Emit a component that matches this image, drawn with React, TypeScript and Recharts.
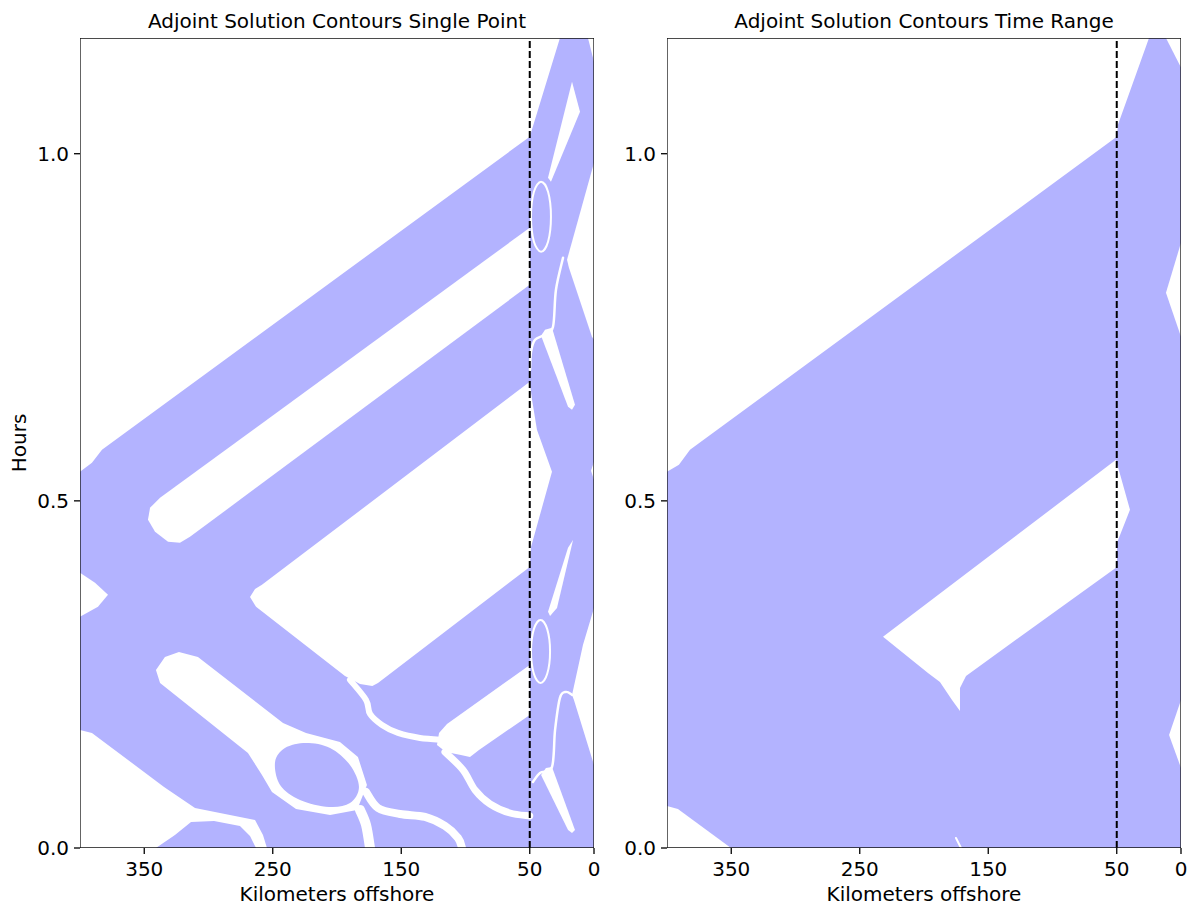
import { ScatterChart, Scatter, XAxis, YAxis } from "recharts";

const FONT = "DejaVu Sans, sans-serif";
const BLUE = "#b3b3ff";
const H_MAX = 7 / 6; // 70 minutes

const xTicks = [350, 250, 150, 50, 0];
const yTicks = [0, 0.5, 1.0];
const shelfKm = 50;

const titleLeft = "Adjoint Solution Contours Single Point";
const titleRight = "Adjoint Solution Contours Time Range";
const xLabel = "Kilometers offshore";
const yLabel = "Hours";

// every outline below is [km offshore, hours]
const plotBox = [[400, 0], [0, 0], [0, H_MAX], [400, H_MAX]];
const shelfLine = [[shelfKm, 0], [shelfKm, H_MAX]];

// ---- single point: white gaps in the filled contour ----
const spTopLeft = [[400, H_MAX], [26.5, H_MAX], [50, 1.0245], [382.9, 0.5735], [390.7, 0.5548], [400, 0.5418]];
const spTopCorner = [[4.7, H_MAX], [0, H_MAX], [0, 1.1326]];
const spUpperSlit = [[50, 0.8934], [337.7, 0.5044], [345.5, 0.4899], [347.1, 0.4727], [341.6, 0.4554], [331.5, 0.441], [322.2, 0.4395], [314.4, 0.4482], [50, 0.8113]];
const spShoreSlit1 = [[17.1, 1.1038], [10.9, 1.0606], [33.5, 0.9597], [35.8, 0.9654]];
const spShoreNotch1 = [[0, 0.9871], [21.0, 0.8473], [19.5, 0.8358], [1.6, 0.7364], [0, 0.732]];
const spShoreSlit2 = [[32.7, 0.7494], [14.8, 0.6384], [17.1, 0.6312], [20.2, 0.6355], [41.2, 0.7378], [38.1, 0.7465]];
const spCentre = [[50, 0.6715], [48.2, 0.6456], [44.4, 0.6023], [32.7, 0.5418], [49.0, 0.4337], [50, 0.4049], [168.1, 0.2378], [172.5, 0.2335], [182.1, 0.2363], [193.8, 0.2479], [200.8, 0.2579], [263.0, 0.3473], [267.7, 0.3617], [263.8, 0.3732], [258.4, 0.379]];
const spShoreBump = [[0, 0.5562], [2.3, 0.5433], [0, 0.5303]];
const spShoreSlit3 = [[16.3, 0.4438], [28.8, 0.3458], [34.2, 0.3343], [35.8, 0.3401], [20.2, 0.4323]];
const spLowerWedge = [[50, 0.2637], [114.4, 0.1787], [120.6, 0.1657], [122.2, 0.1484], [115.2, 0.1383], [103.6, 0.134], [96.5, 0.1311], [89.5, 0.1412], [50, 0.1917]];
const spLeftBump = [[400, 0.3963], [388.3, 0.3819], [378.2, 0.3646], [386.0, 0.3473], [400, 0.3329]];
const spCrossGap = [[323.0, 0.2824], [308.2, 0.2752], [242.0, 0.1801], [224.1, 0.1657], [197.7, 0.1527], [183.7, 0.1311], [176.7, 0.0908], [184.4, 0.0548], [205.4, 0.0476], [231.9, 0.0562], [250.6, 0.0807], [258.4, 0.1052], [269.3, 0.1369], [337.7, 0.2378], [340.9, 0.2565], [333.9, 0.2752]];
const spBottomLeft = [[400, 0.17], [390.7, 0.1657], [334.6, 0.0879], [310.5, 0.0576], [283.3, 0.0476], [263.8, 0.0403], [257.6, 0.0187], [254.5, 0], [263.0, 0], [267.7, 0.0173], [275.5, 0.0317], [295.7, 0.0389], [313.6, 0.0375], [326.1, 0.0187], [340.9, 0], [400, 0]];
const spShoreSlit4 = [[32.7, 0.1167], [14.8, 0.0259], [17.1, 0.0216], [20.2, 0.0259], [41.2, 0.1052], [37.4, 0.1153]];
const spShoreNotch2 = [[0, 0.3458], [8.6, 0.2925], [17.1, 0.2205], [15.6, 0.2133], [0, 0.1196]];

// blue island sitting inside the cross gap
const spIsland = [[248.2, 0.1239], [240.5, 0.1441], [224.1, 0.1513], [205.4, 0.1441], [189.9, 0.1196], [182.9, 0.0879], [189.9, 0.0648], [206.2, 0.0591], [228.8, 0.0692], [244.3, 0.0908]];

// thin contour seams
const spRing1 = [[41.2, 0.9597], [35.7, 0.9449], [33.5, 0.9093], [35.7, 0.8737], [41.2, 0.8588], [46.8, 0.8737], [49.0, 0.9093], [46.8, 0.9449]];
const spRing2 = [[41.6, 0.3285], [36.4, 0.3153], [34.2, 0.2832], [36.4, 0.251], [41.6, 0.2378], [46.8, 0.251], [49.0, 0.2832], [46.8, 0.3153]];
const spSeam1 = [[24.1, 0.8502], [29.6, 0.8041], [31.9, 0.7508], [38.1, 0.7395], [45.9, 0.732], [49.0, 0.7147], [49.8, 0.6888]];
const spSeam2 = [[17.1, 0.2205], [21.8, 0.2248], [26.5, 0.2162], [30.3, 0.17], [32.7, 0.1167], [42.0, 0.1081], [47.5, 0.0951]];
const spGapA = [[189.9, 0.2421], [177.4, 0.2133], [174.3, 0.1931], [165.0, 0.1772], [152.5, 0.1657], [135.4, 0.1585], [116.0, 0.1556]];
const spGapB = [[116.0, 0.1383], [101.9, 0.1124], [92.6, 0.0836], [80.9, 0.0634], [65.4, 0.0504], [50, 0.0461]];
const spGapC = [[177.4, 0.0807], [168.1, 0.0576], [151.0, 0.049], [131.5, 0.0447], [116.0, 0.0317], [105.8, 0.0144], [102.7, 0]];
const spGapD = [[182.1, 0.0548], [177.4, 0.0331], [174.3, 0]];

// ---- time range ----
const trTopLeft = [[400, H_MAX], [24.9, H_MAX], [49.0, 1.0419], [50, 1.0245], [382.1, 0.5735], [390.7, 0.5519], [400, 0.5418]];
const trTopCorner = [[11.7, H_MAX], [0, H_MAX], [0, 1.124]];
const trNotch1 = [[0, 0.8718], [11.7, 0.7998], [0, 0.7364]];
const trNotch2 = [[0, 0.2133], [9.3, 0.1628], [0, 0.1153]];
const trWedge = [[231.9, 0.3041], [50.6, 0.5591], [39.7, 0.4871], [49.8, 0.4395], [49.8, 0.4049], [167.3, 0.2479], [172.0, 0.2306], [172.0, 0.1974], [178.2, 0.2133], [187.6, 0.2392], [196.9, 0.2522]];
const trBottomLeft = [[400, 0.0605], [391.5, 0.0562], [350.2, 0], [400, 0]];
const trSeam = [[175.1, 0.0144], [171.2, 0]];

type Layer = {
  pts: number[][];
  fill?: string;
  stroke?: string;
  width?: number;
  smooth?: boolean;
  open?: boolean;
  dash?: string;
};

type XY = { x: number; y: number };

function straightPath(p: XY[], closed: boolean) {
  const d = p.map((q, i) => `${i ? "L" : "M"}${q.x},${q.y}`).join("");
  return closed ? d + "Z" : d;
}

// Catmull-Rom through the points, as cubic beziers
function smoothPath(p: XY[], closed: boolean) {
  const n = p.length;
  const at = (i: number) => (closed ? p[(i + n) % n] : p[Math.max(0, Math.min(n - 1, i))]);
  let d = `M${p[0].x},${p[0].y}`;
  const segs = closed ? n : n - 1;
  for (let i = 0; i < segs; i++) {
    const p0 = at(i - 1), p1 = at(i), p2 = at(i + 1), p3 = at(i + 2);
    const c1x = p1.x + (p2.x - p0.x) / 6, c1y = p1.y + (p2.y - p0.y) / 6;
    const c2x = p2.x - (p3.x - p1.x) / 6, c2y = p2.y - (p3.y - p1.y) / 6;
    d += `C${c1x},${c1y} ${c2x},${c2y} ${p2.x},${p2.y}`;
  }
  return closed ? d + "Z" : d;
}

const white = (pts: number[][]): Layer => ({ pts, fill: "#fff" });
const seam = (pts: number[][], width: number, open = true): Layer => ({ pts, stroke: "#fff", width, smooth: true, open });

const singleLayers: Layer[] = [
  { pts: plotBox, fill: BLUE },
  white(spTopLeft),
  white(spTopCorner),
  white(spUpperSlit),
  white(spShoreSlit1),
  white(spShoreNotch1),
  white(spShoreSlit2),
  white(spCentre),
  white(spShoreBump),
  white(spShoreSlit3),
  white(spLowerWedge),
  white(spLeftBump),
  white(spCrossGap),
  white(spBottomLeft),
  white(spShoreSlit4),
  white(spShoreNotch2),
  { pts: spIsland, fill: BLUE, smooth: true },
  seam(spRing1, 2, false),
  seam(spRing2, 2, false),
  seam(spSeam1, 2.5),
  seam(spSeam2, 2.5),
  seam(spGapA, 6),
  seam(spGapB, 7),
  seam(spGapC, 8),
  seam(spGapD, 10),
];

const rangeLayers: Layer[] = [
  { pts: plotBox, fill: BLUE },
  white(trTopLeft),
  white(trTopCorner),
  white(trNotch1),
  white(trNotch2),
  white(trWedge),
  white(trBottomLeft),
  seam(trSeam, 2),
];

const overlays: Layer[] = [
  { pts: shelfLine, stroke: "#000", width: 2, open: true, dash: "7 3" },
  { pts: plotBox, stroke: "#111", width: 1.3 },
];

const renderLayer = (l: Layer, i: number) => (
  <Scatter
    key={i}
    data={l.pts.map(([km, h]) => ({ km, h }))}
    isAnimationActive={false}
    legendType="none"
    shape={() => <g />}
    line={(props: any) => {
      const pts: XY[] = props.points;
      const d = l.smooth ? smoothPath(pts, !l.open) : straightPath(pts, !l.open);
      return (
        <path
          d={d}
          fill={l.fill ?? "none"}
          stroke={l.stroke ?? "none"}
          strokeWidth={l.width ?? 0}
          strokeDasharray={l.dash}
          strokeLinejoin="round"
          strokeLinecap={l.dash ? "butt" : "round"}
        />
      );
    }}
  />
);

const tickStyle = { fill: "#000", fontSize: 20, fontFamily: FONT };

function Panel({ left, layers }: { left: number; layers: Layer[] }) {
  return (
    <div style={{ position: "absolute", left, top: 0 }}>
      <ScatterChart width={600} height={906} margin={{ top: 38, right: 6, bottom: 0, left: 0 }}>
        <XAxis
          type="number"
          dataKey="km"
          domain={[0, 400]}
          reversed
          allowDataOverflow
          ticks={xTicks}
          interval={0}
          height={58}
          tickSize={6}
          tickMargin={8}
          axisLine={false}
          tickLine={{ stroke: "#000", strokeWidth: 1.3 }}
          tick={tickStyle}
        />
        <YAxis
          type="number"
          dataKey="h"
          domain={[0, H_MAX]}
          allowDataOverflow
          ticks={yTicks}
          interval={0}
          tickFormatter={(v: number) => v.toFixed(1)}
          width={80}
          tickSize={6}
          tickMargin={5}
          axisLine={false}
          tickLine={{ stroke: "#000", strokeWidth: 1.3 }}
          tick={tickStyle}
        />
        {layers.map(renderLayer)}
        {overlays.map((l, i) => renderLayer(l, 100 + i))}
      </ScatterChart>
    </div>
  );
}

export default function App() {
  return (
    <div style={{ position: "absolute", left: 0, top: 0, width: 1191, height: 906, background: "#fff" }}>
      <Panel left={0} layers={singleLayers} />
      <Panel left={587} layers={rangeLayers} />
      <svg
        width={1191}
        height={906}
        style={{ position: "absolute", left: 0, top: 0, pointerEvents: "none" }}
        fontFamily={FONT}
        fill="#000"
      >
        <text x={337} y={28} fontSize={20} textAnchor="middle">{titleLeft}</text>
        <text x={924} y={28} fontSize={20} textAnchor="middle">{titleRight}</text>
        <text x={337} y={901} fontSize={20} textAnchor="middle">{xLabel}</text>
        <text x={924} y={901} fontSize={20} textAnchor="middle">{xLabel}</text>
        <text transform="translate(26,443) rotate(-90)" fontSize={20} textAnchor="middle">{yLabel}</text>
      </svg>
    </div>
  );
}
